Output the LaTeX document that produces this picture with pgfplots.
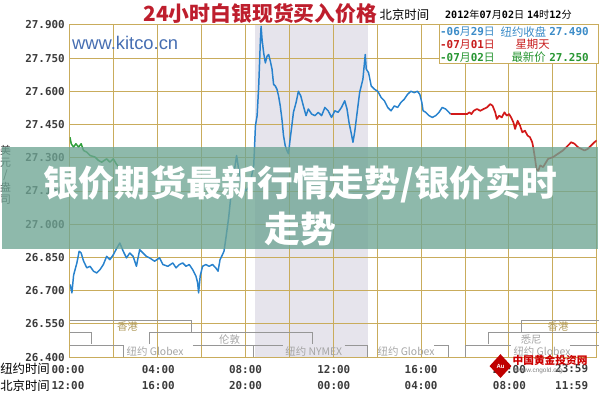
\documentclass[border=0pt]{standalone}
\usepackage{fontspec}
\usepackage{pgfplots}
\pgfplotsset{compat=1.18}
\setmainfont{Liberation Sans}
\newfontfamily\cjk{Noto Sans CJK SC}
\newfontfamily\mono{DejaVu Sans Mono}
\newfontfamily\lib{Liberation Sans}
\definecolor{gridc}{RGB}{201,172,92}
\definecolor{shadec}{RGB}{230,228,236}
\definecolor{labc}{RGB}{60,60,60}
\definecolor{sblue}{RGB}{40,130,205}
\definecolor{sred}{RGB}{210,25,25}
\definecolor{sgreen}{RGB}{46,158,58}
\definecolor{titred}{RGB}{190,30,45}
\definecolor{lgblue}{RGB}{60,140,200}
\definecolor{lgred}{RGB}{200,30,30}
\definecolor{lggreen}{RGB}{40,150,50}
\definecolor{sessc}{RGB}{150,150,150}
\definecolor{sesst}{RGB}{165,165,165}
\definecolor{hkc}{RGB}{176,154,90}
\definecolor{kitc}{RGB}{70,110,178}
\definecolor{banc}{RGB}{110,165,148}
\newcommand\D[1]{{\mono\bfseries #1}}
\newcommand\C[1]{{\cjk #1}}

\pgfplotstableread{
h v
0.01 26.728
0.09 26.69
0.167 26.77
0.316 26.825
0.42 26.878
0.51 26.87
0.62 26.834
0.768 26.803
0.918 26.81
1.071 26.788
1.22 26.78
1.37 26.795
1.523 26.818
1.672 26.855
1.821 26.84
1.975 26.862
2.124 26.89
2.273 26.915
2.427 26.878
2.576 26.848
2.725 26.87
2.879 26.855
3.028 26.81
3.177 26.885
3.331 26.87
3.48 26.855
3.629 26.848
3.855 26.833
4.081 26.848
4.235 26.818
4.461 26.81
4.687 26.825
4.836 26.803
4.985 26.818
5.139 26.825
5.288 26.81
5.437 26.818
5.591 26.795
5.74 26.766
5.817 26.736
5.862 26.69
5.934 26.766
6.043 26.81
6.192 26.818
6.341 26.81
6.495 26.818
6.644 26.803
6.748 26.788
6.839 26.84
6.947 26.862
7.019 26.878
7.096 26.93
7.232 27.03
7.367 27.16
7.503 27.25
7.593 27.31
7.684 27.25
7.819 27.18
8.0 27.15
8.181 27.17
8.375 27.266
8.452 27.445
8.528 27.49
8.601 27.624
8.678 27.833
8.709 27.893
8.754 27.833
8.827 27.773
8.904 27.728
8.98 27.758
9.053 27.766
9.13 27.736
9.207 27.70
9.279 27.631
9.356 27.624
9.432 27.609
9.505 27.579
9.582 27.534
9.658 27.475
9.731 27.40
9.808 27.355
9.885 27.333
9.957 27.318
10.034 27.385
10.111 27.445
10.183 27.505
10.305 27.55
10.409 27.60
10.517 27.579
10.635 27.534
10.757 27.49
10.861 27.52
11.014 27.497
11.164 27.49
11.313 27.505
11.467 27.49
11.616 27.527
11.765 27.512
11.919 27.482
12.068 27.512
12.217 27.505
12.371 27.527
12.52 27.557
12.624 27.52
12.714 27.46
12.823 27.407
12.895 27.37
12.972 27.415
13.049 27.475
13.198 27.594
13.347 27.654
13.455 27.766
13.501 27.70
13.605 27.684
13.726 27.624
13.876 27.609
14.025 27.60
14.179 27.572
14.328 27.557
14.477 27.527
14.631 27.512
14.78 27.534
14.929 27.527
15.083 27.55
15.232 27.564
15.381 27.586
15.535 27.60
15.684 27.594
15.833 27.60
15.941 27.586
16.032 27.55
16.09 27.512
16.212 27.505
16.362 27.49
16.511 27.482
16.664 27.49
16.814 27.505
16.963 27.527
17.116 27.52
17.266 27.505
17.343 27.497
}\blueday

\pgfplotstableread{
h v
17.343 27.497
17.718 27.497
18.093 27.497
18.201 27.505
18.292 27.497
18.395 27.512
18.545 27.52
18.698 27.512
18.847 27.52
18.997 27.527
19.15 27.542
19.254 27.535
19.376 27.505
19.449 27.475
19.557 27.49
19.675 27.482
19.797 27.505
19.901 27.49
20.009 27.497
20.1 27.482
20.204 27.46
20.281 27.43
20.398 27.467
20.507 27.445
20.611 27.415
20.732 27.422
20.85 27.40
20.958 27.393
21.062 27.37
21.107 27.348
21.184 27.30
21.256 27.25
21.333 27.24
21.424 27.265
21.559 27.258
21.785 27.295
22.011 27.303
22.237 27.318
22.463 27.333
22.689 27.355
22.838 27.37
22.992 27.363
23.141 27.348
23.291 27.34
23.444 27.333
23.593 27.34
23.743 27.355
23.895 27.37
24.0 27.378
}\redday

\pgfplotstableread{
h v
0 27.393
0.06 27.363
0.167 27.348
0.271 27.363
0.393 27.348
0.511 27.363
0.619 27.333
0.768 27.325
0.918 27.31
1.144 27.303
1.297 27.288
1.446 27.28
1.672 27.295
1.821 27.28
1.975 27.295
2.124 27.27
2.215 27.26
}\greenday

\begin{document}
\begin{tikzpicture}
\begin{scope}[x=1pt,y=-1pt]
\useasboundingbox (0,0) rectangle (600,400);
\end{scope}
\begin{axis}[
  at={(68pt,-360pt)}, anchor=south west,
  scale only axis, width=531pt, height=335pt,
  xmin=0, xmax=24, ymin=26.4, ymax=27.9,
  set layers,
  xtick={0,2,...,24}, xticklabels={},
  ytick={26.4,26.55,26.7,26.85,27,27.15,27.3,27.45,27.6,27.75,27.9},
  grid=major,
  major grid style={draw=gridc, line width=0.9pt},
  axis line style={draw=gridc, line width=0.9pt},
  major tick length=0pt,
  /pgf/number format/assume math mode=true,
  yticklabel style={font=\mono\bfseries\fontsize{11}{13}\selectfont, text=labc,
     anchor=east, inner sep=0pt, xshift=-5pt,
     /pgf/number format/.cd, fixed, fixed zerofill, precision=3},
]
\begin{pgfonlayer}{axis background}
\fill[shadec] (axis cs:8.45,26.4) rectangle (axis cs:13.56,27.9);
\end{pgfonlayer}
\addplot[sblue, line width=1.5pt, line join=round] table[x=h,y=v] {\blueday};
\addplot[sred, line width=1.7pt, line join=round] table[x=h,y=v] {\redday};
\addplot[sgreen, line width=1.5pt, line join=round] table[x=h,y=v] {\greenday};
\end{axis}

\begin{scope}[x=1pt,y=-1pt]
% session brackets
\begin{scope}[draw=sessc, line width=0.8pt]
\draw (68,323) -- (190,323) -- (190,335);
\draw (523,335) -- (523,323) -- (601,323);
\draw (68,335) -- (90,335) -- (90,347);
\draw (148,347) -- (148,335) -- (312,335) -- (312,347);
\draw (490,347) -- (490,335) -- (601,335);
\draw (68,348) -- (122,348) -- (122,360);
\draw (192,348) -- (253,348) -- (253,360);
\draw (253,348) -- (283,348);
\draw (345,348) -- (368,348) -- (368,360);
\draw (435,348) -- (450,348) -- (450,360);
\draw (467,360) -- (467,348) -- (513,348);
\draw (572,348) -- (601,348);
\end{scope}
\begin{scope}[every node/.style={inner sep=0pt, font=\cjk\fontsize{10.5}{12}\selectfont}]
\node[text=hkc] at (126,329) {香港};
\node[text=hkc] at (560,329) {香港};
\node[text=sesst] at (229,342) {伦敦};
\node[text=sesst] at (533,342) {悉尼};
\node[text=sesst, anchor=west] at (125,354) {纽约 Globex};
\node[text=sesst, anchor=west] at (285,354) {纽约 NYMEX};
\node[text=sesst, anchor=west] at (378,354) {纽约 Globex};
\node[text=sesst, anchor=west] at (515,354) {纽约 Globex};
\end{scope}

% x tick labels
\begin{scope}[every node/.style={inner sep=0pt, text=labc, font=\mono\bfseries\fontsize{11}{13}\selectfont}]
\node at (66,372) {00:00};
\node at (157,372) {04:00};
\node at (245,372) {08:00};
\node at (334,372) {12:00};
\node at (422,372) {16:00};
\node at (511,372) {20:00};
\node[anchor=west] at (557,372) {23:59};
\node at (66,389) {12:00};
\node at (157,389) {16:00};
\node at (245,389) {20:00};
\node at (334,389) {00:00};
\node at (422,389) {04:00};
\node at (511,389) {08:00};
\node[anchor=west] at (557,389) {11:59};
\end{scope}
\node[anchor=east, inner sep=0pt, font=\cjk\fontsize{12.5}{14}\selectfont] at (48,372) {纽约时间};
\node[anchor=east, inner sep=0pt, font=\cjk\fontsize{12.5}{14}\selectfont] at (48,389) {北京时间};

% vertical unit label
\node[inner sep=0pt, align=center, text=labc, font=\cjk\fontsize{11}{12.5}\selectfont] at (3,176) {美\\元\\/\\盎\\司};

% title and header
\node[inner sep=0pt, text=titred, font=\cjk\bfseries\fontsize{21}{24}\selectfont] at (260,14) {24小时白银现货买入价格};
\node[anchor=west, inner sep=0pt, font=\cjk\fontsize{12.5}{14}\selectfont] at (380,15) {北京时间};
\node[anchor=west, inner sep=0pt, text=black] at (446,15) {\fontsize{10.2}{12}\selectfont\D{2012}\C{年}\D{07}\C{月}\D{02}\C{日} \D{14}\C{时}\D{12}\C{分}};

% legend box
\draw[gridc, line width=0.9pt, fill=white] (440,25) rectangle (601,64);
\begin{scope}[every node/.style={anchor=west, inner sep=0pt}]
\node[text=lgblue] at (441,32) {\fontsize{11}{12}\selectfont\D{-06}\C{月}\D{29}\C{日}};
\node[text=lgblue] at (502,32) {\fontsize{11.5}{12}\selectfont\C{纽约收盘}};
\node[text=lgblue] at (551,32) {\fontsize{11}{12}\selectfont\D{27.490}};
\node[text=lgred] at (441,45) {\fontsize{11}{12}\selectfont\D{-07}\C{月}\D{01}\C{日}};
\node[text=lgred] at (517,45) {\fontsize{11.5}{12}\selectfont\C{星期天}};
\node[text=lggreen] at (441,58) {\fontsize{11}{12}\selectfont\D{-07}\C{月}\D{02}\C{日}};
\node[text=lggreen] at (513,58) {\fontsize{11.5}{12}\selectfont\C{最新价}};
\node[text=lggreen] at (551,58) {\fontsize{11}{12}\selectfont\D{27.250}};
\end{scope}

% watermark
\node[anchor=west, inner sep=0pt, text=kitc, font=\lib\fontsize{18.5}{20}\selectfont] at (70,43) {www.kitco.cn};

% logo
\fill[red!75!black] (502,357) -- (513,369) -- (502,381) -- (491,369) -- cycle;
\node[inner sep=0pt, text=white, font=\lib\bfseries\fontsize{6}{7}\selectfont] at (502,369) {Au};
\node[anchor=west, inner sep=0pt, text=red!80!black, font=\cjk\bfseries\fontsize{10.8}{12}\selectfont] at (514,363) {中国黄金投资网};
\node[anchor=west, inner sep=0pt, text=gray, font=\lib\fontsize{6.5}{7}\selectfont] at (515,374) {//www.cngold.org};

% banner overlay
\fill[banc, fill opacity=0.78] (0,148) rectangle (600,251);
\node[inner sep=0pt, text=white, font=\cjk\bfseries\fontsize{36}{40}\selectfont] at (300,186) {银价期货最新行情走势/银价实时};
\node[inner sep=0pt, text=white, font=\cjk\bfseries\fontsize{36}{40}\selectfont] at (300,231) {走势};
\end{scope}
\end{tikzpicture}
\end{document}
